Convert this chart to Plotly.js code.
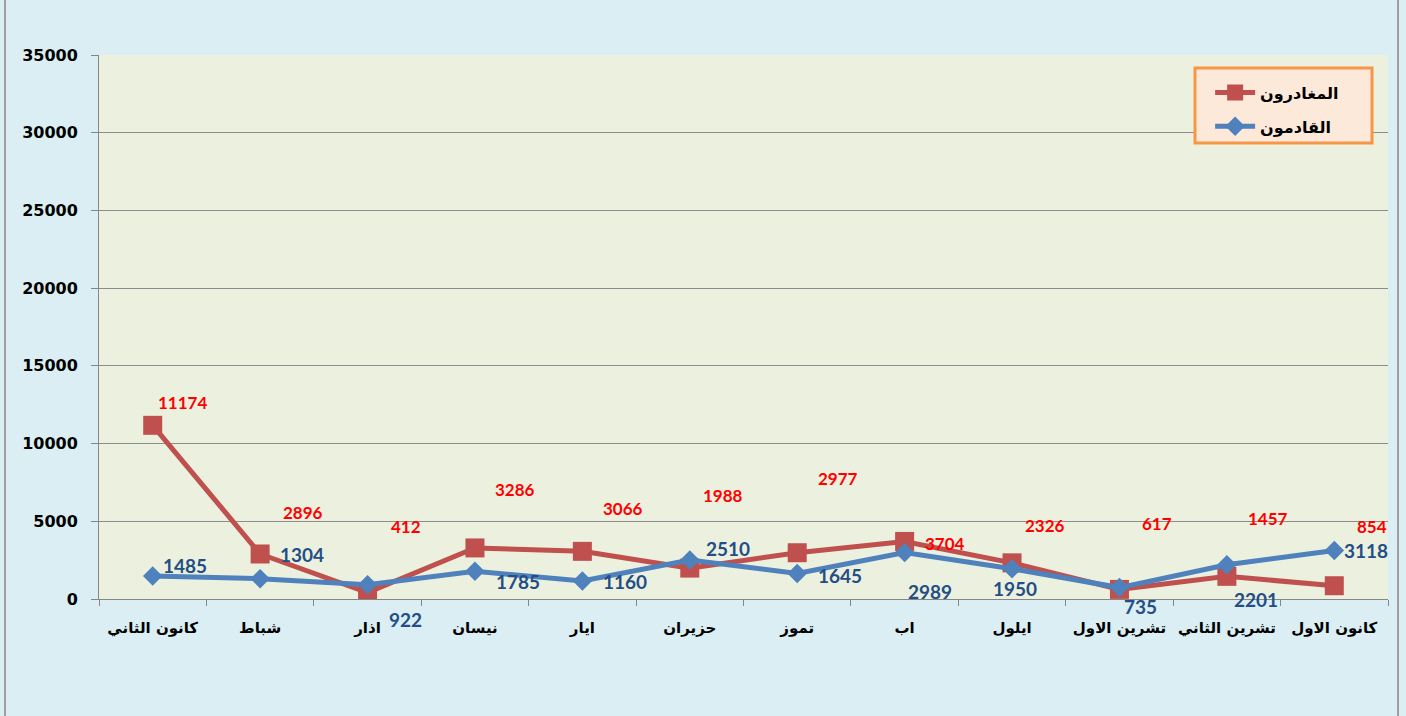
<!DOCTYPE html>
<html>
<head>
<meta charset="utf-8">
<script src="https://cdn.plot.ly/plotly-3.0.1.min.js"></script>
<style>
  html, body { margin: 0; padding: 0; background: #DAEEF3; }
  #wrap { position: relative; width: 1406px; height: 716px; background: #DAEEF3; overflow: hidden; }
  #frame { position: absolute; left: 4px; top: 0; width: 1391px; height: 716px;
           border-left: 2px solid #A0A0A0; border-right: 2px solid #A0A0A0; }
  #chart { position: absolute; left: 0; top: 0; width: 1406px; height: 716px; }
</style>
</head>
<body>
<div id="wrap">
  <div id="frame"></div>
  <div id="chart"></div>
</div>
<script>
// Categories (months)
const months = ['كانون الثاني', 'شباط', 'اذار', 'نيسان', 'ايار', 'حزيران', 'تموز', 'اب', 'ايلول', 'تشرين الاول', 'تشرين الثاني', 'كانون الاول'];

// Series values
const departures = [11174, 2896, 412, 3286, 3066, 1988, 2977, 3704, 2326, 617, 1457, 854];   // المغادرون
const arrivals   = [1485, 1304, 922, 1785, 1160, 2510, 1645, 2989, 1950, 735, 2201, 3118];     // القادمون

const depName = 'المغادرون';
const arrName = 'القادمون';

// Y axis ticks
const yTicks = [0, 5000, 10000, 15000, 20000, 25000, 30000, 35000];

// Data label offsets in pixels (label placement, as in the original)
const depLabelDX = [30, 43, 38, 40, 41, 33, 41, 40, 33, 38, 41, 38];
const depLabelDY = [23, 41, 66, 58, 43, 73, 74, -2, 37, 66, 58, 59];
const arrLabelDX = [32, 42, 38, 43, 43, 38, 43, 25, 3, 21, 29, 32];
const arrLabelDY = [10, 24, -35, -10, -1, 11, -2, -39, -20, -19, -35, 0];

const traces = [
  {
    x: months, y: departures, name: depName, type: 'scatter', mode: 'lines+markers',
    legendgroup: 'dep',
    line: { color: '#C0504D', width: 5 },
    marker: { symbol: 'square', size: 19, color: '#C0504D' },
    hoverinfo: 'skip'
  },
  {
    x: months, y: arrivals, name: arrName, type: 'scatter', mode: 'lines+markers',
    legendgroup: 'arr',
    line: { color: '#4F81BD', width: 5 },
    marker: { symbol: 'diamond', size: 15, color: '#4F81BD' },
    hoverinfo: 'skip'
  }
];

const annotations = [];
months.forEach((m, i) => {
  annotations.push({
    x: m, y: departures[i], xref: 'x', yref: 'y', text: String(departures[i]),
    showarrow: false, xshift: depLabelDX[i], yshift: depLabelDY[i],
    font: { family: 'Lato, "Open Sans", sans-serif', size: 17, color: '#FF0000', weight: 'bold' }
  });
  annotations.push({
    x: m, y: arrivals[i], xref: 'x', yref: 'y', text: String(arrivals[i]),
    showarrow: false, xshift: arrLabelDX[i], yshift: arrLabelDY[i],
    font: { family: 'Lato, "Open Sans", sans-serif', size: 19, color: '#244E86', weight: 'bold' }
  });
});

const layout = {
  width: 1406, height: 716,
  margin: { l: 99, r: 18, t: 55, b: 117, pad: 0 },
  paper_bgcolor: 'rgba(0,0,0,0)',
  plot_bgcolor: '#EBF1DE',
  showlegend: true,
  legend: {
    x: 0.862, y: 0.962, xanchor: 'left', yanchor: 'top',
    bgcolor: 'rgba(0,0,0,0)', borderwidth: 0,
    font: { family: '"DejaVu Sans", sans-serif', size: 16, color: '#000', weight: 'bold' },
    itemwidth: 40, tracegroupgap: 10
  },
  shapes: [{
    type: 'rect', xref: 'paper', yref: 'paper',
    x0: 0.8503, x1: 0.9876, y0: 0.8382, y1: 0.9761,
    fillcolor: '#FDE9D9', line: { color: '#F79646', width: 3 }, layer: 'above'
  }],
  xaxis: {
    type: 'category', categoryorder: 'array', categoryarray: months,
    range: [-0.5, 11.5], autorange: false,
    tickson: 'boundaries', ticks: 'outside', ticklen: 6, tickcolor: '#868686', tickwidth: 1,
    showline: true, linecolor: '#868686', linewidth: 1,
    showgrid: false, zeroline: false, tickangle: 0, automargin: false,
    ticklabelstandoff: 15,
    tickfont: { family: '"DejaVu Sans", sans-serif', size: 15, color: '#000', weight: 'bold' },
    fixedrange: true
  },
  yaxis: {
    range: [0, 35000], autorange: false, tickvals: yTicks, ticktext: yTicks.map(String),
    ticks: 'outside', ticklen: 7, tickcolor: '#868686', tickwidth: 1,
    showline: true, linecolor: '#868686', linewidth: 1,
    showgrid: true, gridcolor: '#8C8C8C', gridwidth: 1, zeroline: false, automargin: false,
    ticklabelstandoff: 10,
    tickfont: { family: '"DejaVu Sans", sans-serif', size: 16, color: '#000', weight: 'bold' },
    fixedrange: true
  },
  annotations: annotations
};

Plotly.newPlot('chart', traces, layout, { displayModeBar: false, staticPlot: true });
</script>
</body>
</html>
